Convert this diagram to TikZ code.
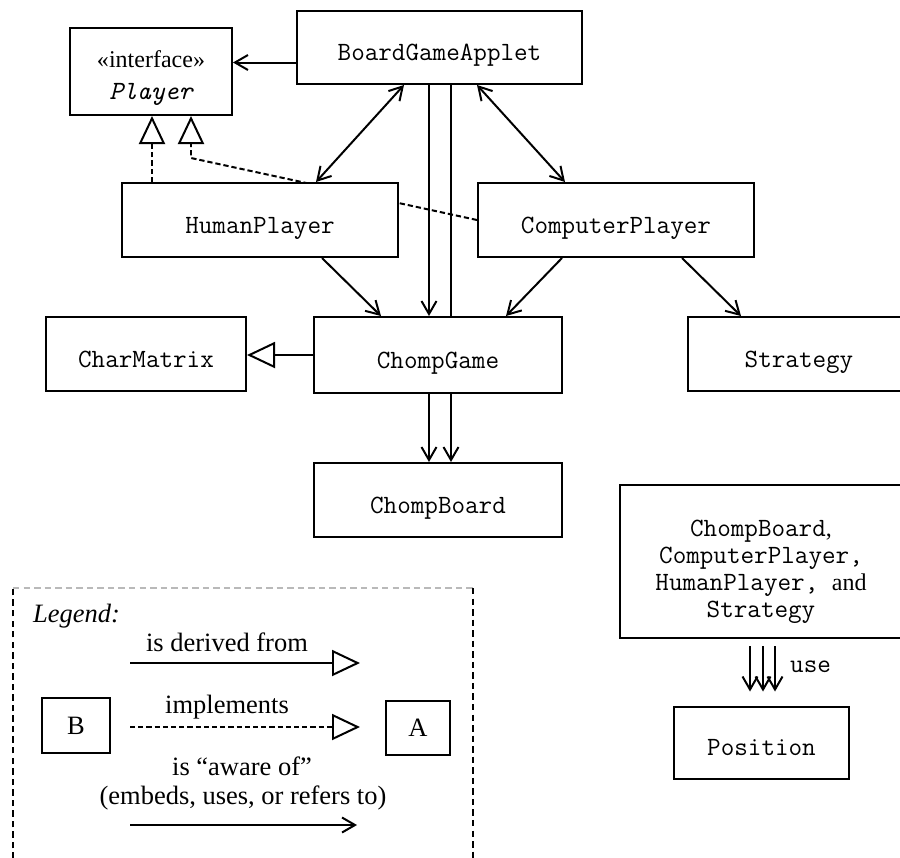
\documentclass[tikz,border=0pt]{standalone}
\usepackage{fontspec}
\setmainfont{Liberation Serif}
\usetikzlibrary{arrows.meta,calc,backgrounds}
\newcommand\codefont{\fontsize{22.5}{24}\selectfont\ttfamily}
\tikzset{
  classframe/.style={draw,line width=1.7pt,fill=white,inner sep=0pt},
  classbox/.style={classframe,font=\codefont,text height=0.78cm,text depth=0pt},
  link/.style={line width=1.7pt},
  aware/.style={link,-{Straight Barb[length=0.39cm,width=0.45cm]}},
  mutual/.style={link,{Straight Barb[length=0.39cm,width=0.45cm]}-{Straight Barb[length=0.39cm,width=0.45cm]}},
  derives/.style={link,-{Triangle[open,length=0.84cm,width=0.78cm]}},
  implements/.style={derives,dash pattern=on 4.5pt off 2.5pt},
  legendtext/.style={font=\fontsize{22.6}{25.6}\selectfont,anchor=base,inner sep=0pt},
  legendframe/.style={line width=1.4pt,dash pattern=on 5.5pt off 3.5pt}
}
\begin{document}
\begin{tikzpicture}[x=0.03cm,y=-0.03cm]
\path[use as bounding box] (0,0) rectangle (900,857);
\clip (0,0) rectangle (900,857);
%classes
\node[classframe,minimum width=4.86cm,minimum height=2.61cm] (player) at (151,71.5) {};
\node[align=center,font=\fontsize{20.5}{27.3}\selectfont,inner sep=0pt]
  (playertext) at ([yshift=-0.2cm]player.center) {«interface»\\{\ttfamily\itshape\fontsize{22.5}{24}\selectfont Player}};
\node[classbox,minimum width=8.55cm,minimum height=2.19cm] (bga) at (439.5,47.5) {BoardGameApplet};
\node[classbox,minimum width=8.28cm,minimum height=2.22cm] (human) at (260,220) {HumanPlayer};
\node[classbox,minimum width=8.28cm,minimum height=2.22cm] (computer) at (616,220) {ComputerPlayer};
\node[classbox,minimum width=6cm,minimum height=2.22cm] (charmatrix) at (146,354) {CharMatrix};
\node[classbox,minimum width=7.44cm,minimum height=2.28cm] (game) at (438,355) {ChompGame};
\node[classbox,minimum width=6.66cm,minimum height=2.22cm] (strategy) at (799,354) {Strategy};
\node[classbox,minimum width=7.44cm,minimum height=2.22cm] (board) at (438,500) {ChompBoard};
\node[classframe,minimum width=8.46cm,minimum height=4.59cm] (note) at (761,561.5) {};
\node[align=center,font=\fontsize{22.5}{23}\selectfont\ttfamily,inner sep=0pt]
  (notetext) at ([yshift=-0.32cm]note.center)
  {ChompBoard{\rmfamily\fontsize{20.5}{23}\selectfont,}\\ComputerPlayer,\\HumanPlayer, {\rmfamily\fontsize{20.5}{23}\selectfont and}\\Strategy};
\node[classbox,minimum width=5.25cm,minimum height=2.16cm] (position) at (761.5,742.5) {Position};

%connectors
\draw[aware] ([yshift=-0.45cm]bga.west) -- ([yshift=-0.45cm]bga.west -| player.east);
\draw[mutual] ($(bga.south west)+(108,0)$) -- ($(human.north west)+(195,0)$);
\draw[mutual] ($(bga.south west)+(181,0)$) -- ($(computer.north west)+(88,0)$);
\coordinate (g1) at ($(bga.south west)+(133,0)$);
\coordinate (g2) at ($(bga.south west)+(155,0)$);
\draw[aware] (g1) -- (g1 |- game.north);
\draw[link] (g2) -- (g2 |- game.north);
\draw[aware] ($(human.south west)+(201,0)$) -- ($(game.north west)+(68,0)$);
\draw[aware] ($(computer.south west)+(85,0)$) -- ($(game.north west)+(193,0)$);
\draw[aware] ($(computer.south west)+(205,0)$) -- ($(strategy.north west)+(54,0)$);
\draw[derives] (game.west) -- (game.west -| charmatrix.east);
\foreach \dx in {116,138}{
  \coordinate (b) at ($(game.south west)+(\dx,0)$);
  \draw[aware] (b) -- (b |- board.north);
}
\foreach \dx in {-11,2,14}{
  \coordinate (u) at ($(note.south)+(\dx,0)$);
  \draw[aware,shorten <=0.21cm,shorten >=0.42cm] (u) -- (u |- position.north);
}
\node[font=\codefont,anchor=base west,inner sep=0pt] (uselbl) at (790,672) {use};
\begin{scope}[on background layer]
\coordinate (hp) at ($(human.north west)+(31,0)$);
\draw[implements] (hp) -- (hp |- player.south);
\coordinate (bend) at ($(player.south west)+(122,42)$);
\draw[implements] (computer.west) -- (bend) -- (bend |- player.south);
\end{scope}

%legend
\draw[legendframe] (13,880) -- (13,588);
\draw[legendframe,gray!55] (13,588) -- (473,588);
\draw[legendframe] (473,588) -- (473,880);
\node[legendtext,anchor=base west,font=\fontsize{22.6}{25.6}\selectfont\itshape] (legend) at (33,622) {Legend:};
\node[classframe,minimum width=2.04cm,minimum height=1.65cm,font=\fontsize{22.6}{25.6}\selectfont] (B) at (76,725.5) {B};
\node[classframe,minimum width=1.92cm,minimum height=1.62cm,font=\fontsize{22.6}{25.6}\selectfont] (A) at (418,728) {A};
\coordinate (d0) at (130,663); \coordinate (d1) at (360,663);
\coordinate (i0) at (130,727); \coordinate (i1) at (360,727);
\coordinate (a0) at (130,825); \coordinate (a1) at (357,825);
\draw[derives] (d0) -- (d1);
\draw[implements] (i0) -- (i1);
\draw[aware] (a0) -- (a1);
%labels
\node[legendtext] (derivedlbl) at (227,651) {is derived from};
\node[legendtext] (implementslbl) at (227,713) {implements};
\node[legendtext] (awarelbl) at (242,775) {is “aware of”};
\node[legendtext] (awarenote) at (243,804) {(embeds, uses, or refers to)};
\end{tikzpicture}
\end{document}
